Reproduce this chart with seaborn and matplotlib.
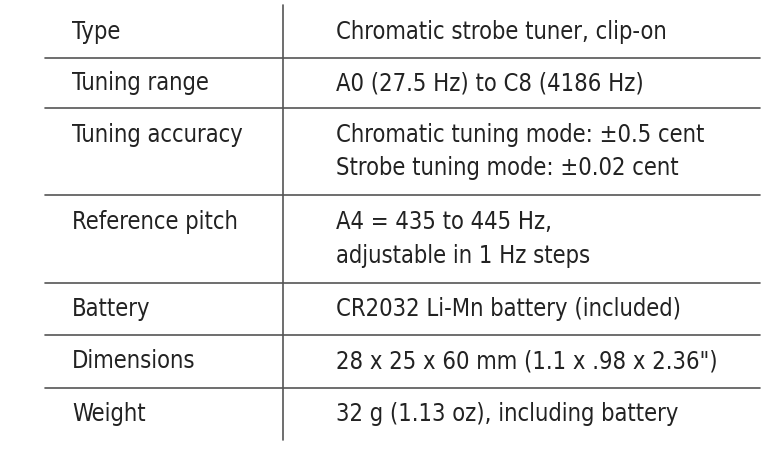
import matplotlib
matplotlib.use("Agg")
import matplotlib.pyplot as plt
import seaborn as sns

labels = ["Type", "Tuning range", "Tuning accuracy", "Reference pitch", "Battery", "Dimensions", "Weight"]
values = [
    ["Chromatic strobe tuner, clip-on"],
    ["A0 (27.5 Hz) to C8 (4186 Hz)"],
    ["Chromatic tuning mode: \u00b10.5 cent", "Strobe tuning mode: \u00b10.02 cent"],
    ["A4 = 435 to 445 Hz,", "adjustable in 1 Hz steps"],
    ["CR2032 Li-Mn battery (included)"],
    ["28 x 25 x 60 mm (1.1 x .98 x 2.36\")"],
    ["32 g (1.13 oz), including battery"],
]

sns.set_theme(style="white")
plt.rcParams['font.family'] = ['DejaVu Sans']

fig = plt.figure(figsize=(7.82, 4.54), dpi=100)
ax = fig.add_axes([0, 0, 1, 1])
ax.set_xlim(0, 782)
ax.set_ylim(454, 0)
ax.axis("off")

fs = 17
kw = dict(fontsize=fs, fontstretch="condensed", va="center", ha="left", color="#222222")
row_tops = [5, 58, 108, 195, 283, 335, 388, 440]
line_h = 33
for i, (lab, vals) in enumerate(zip(labels, values)):
    top, bot = row_tops[i], row_tops[i + 1]
    n = len(vals)
    y0 = (top + bot) / 2 - (n - 1) * line_h / 2
    ax.text(72, y0, lab, **kw)
    for j, v in enumerate(vals):
        ax.text(336, y0 + j * line_h, v, **kw)
    if i > 0:
        ax.plot([45, 760], [top, top], color="#555555", lw=1.2)
ax.plot([283, 283], [5, 440], color="#555555", lw=1.2)

fig.savefig("out.png", dpi=100)
